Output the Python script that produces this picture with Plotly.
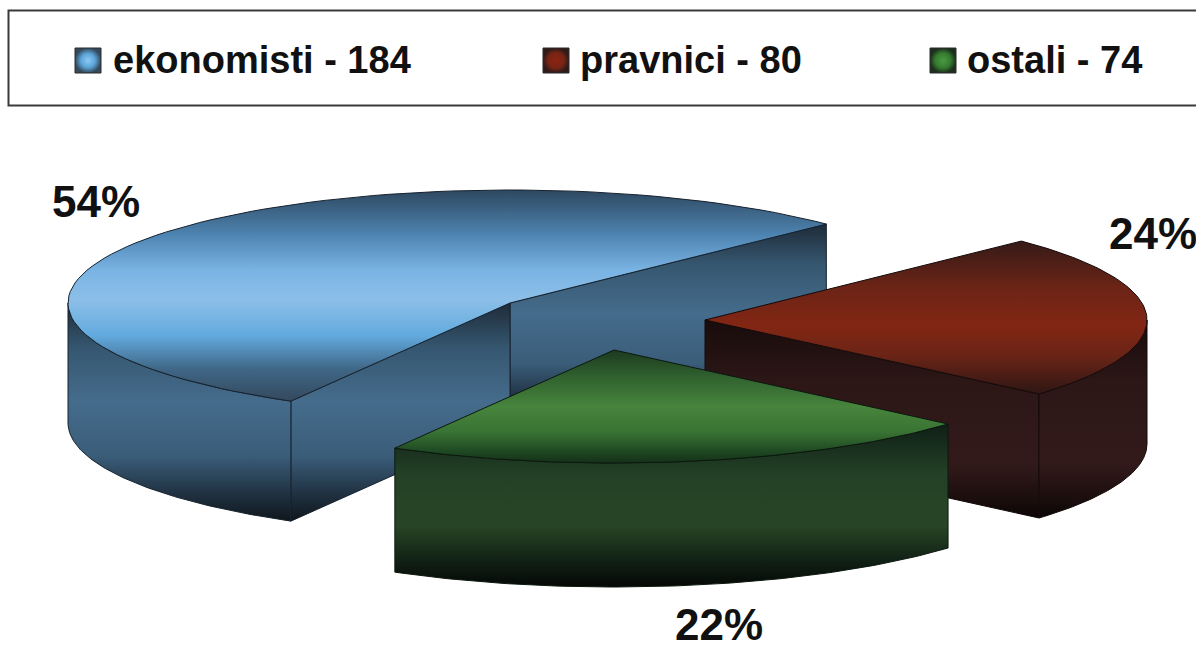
import numpy as np
import plotly.graph_objects as go

categories = ["ekonomisti", "pravnici", "ostali"]
values = [184, 80, 74]

RX, RY = 442, 113
DEPTHS = {"ekonomisti": 120, "pravnici": 124, "ostali": 124}
START_DEG = 44.3
centers = {"ekonomisti": (510, 303), "pravnici": (705, 320), "ostali": (614, 350)}
spans_order = {"ekonomisti": 0, "pravnici": 2, "ostali": 1}  # counter-clockwise order

styles = {
    "ekonomisti": dict(
        line="#16222e",
        top=[[0, "#2e4860"], [0.22, "#4f86b4"], [0.38, "#7ab4e4"], [0.52, "#8cbfe8"], [0.69, "#62aade"], [0.85, "#3f6685"], [1, "#34495e"]],
        wall=[[0, "#1e2b38"], [0.2, "#35566f"], [0.45, "#456c8c"], [0.7, "#3a5d79"], [0.88, "#1f3040"], [1, "#10161c"]],
        swatch=[[0, "#8ccaf4"], [0.55, "#5ca4d8"], [1, "#34495c"]],
    ),
    "pravnici": dict(
        line="#140a0a",
        top=[[0, "#351a18"], [0.3, "#6b2416"], [0.55, "#832614"], [0.75, "#6a2416"], [1, "#2e1614"]],
        wall=[[0, "#180c0c"], [0.3, "#2c1616"], [0.72, "#331a1a"], [0.9, "#1c0e0e"], [1, "#0c0606"]],
        swatch=[[0, "#8a2412"], [0.6, "#7a2414"], [1, "#2e1a18"]],
    ),
    "ostali": dict(
        line="#0c180e",
        top=[[0, "#1c3a20"], [0.25, "#31632f"], [0.5, "#47843c"], [0.72, "#3a7434"], [0.9, "#1e4822"], [1, "#143018"]],
        wall=[[0, "#0f1f16"], [0.3, "#234026"], [0.62, "#284626"], [0.85, "#101f14"], [1, "#050806"]],
        swatch=[[0, "#4a9a40"], [0.6, "#357a30"], [1, "#1c2e1c"]],
    ),
}

total = sum(values)
spans = {c: 360 * v / total for c, v in zip(categories, values)}

# cumulative angles, counter-clockwise from the start angle
angles = {}
cursor = START_DEG
for c in sorted(categories, key=lambda k: spans_order[k]):
    angles[c] = (cursor, cursor + spans[c])
    cursor += spans[c]

fig = go.Figure()


def poly(xs, ys, scale, line, grad_type="vertical", start=None, stop=None, width=1):
    grad = dict(type=grad_type, colorscale=scale)
    if start is not None:
        grad.update(start=start, stop=stop)
    fig.add_trace(go.Scatter(x=list(xs), y=list(ys), mode="lines", fill="toself",
                             fillgradient=grad, line=dict(color=line, width=width),
                             hoverinfo="skip", showlegend=False))


def arc(cx, cy, t0, t1, n=90):
    t = np.radians(np.linspace(t0, t1, n))
    return cx + RX * np.cos(t), cy - RY * np.sin(t)


def face(cx, cy, t, st, depth):
    ex, ey = cx + RX * np.cos(np.radians(t)), cy - RY * np.sin(np.radians(t))
    xs = [cx, ex, ex, cx, cx]
    ys = [cy, ey, ey + depth, cy + depth, cy]
    poly(xs, ys, st["wall"], st["line"], start=min(ys), stop=max(ys))


def draw(c):
    cx, cy = centers[c]
    t0, t1 = angles[c]
    st = styles[c]
    depth = DEPTHS[c]
    if np.sin(np.radians(t0 - 90)) < 0:
        face(cx, cy, t0, st, depth)
    if np.sin(np.radians(t1 + 90)) < 0:
        face(cx, cy, t1, st, depth)
    # outer rim: only the front half of the ellipse is visible
    a0, a1 = t0, t1
    if a1 > 360 and a0 < 360:
        a1 = 360
    elif a0 < 180 < a1:
        a0 = 180
    ax, ay = arc(cx, cy, a0, a1)
    xs = np.concatenate([ax, ax[::-1], ax[:1]])
    ys = np.concatenate([ay, ay[::-1] + depth, ay[:1]])
    poly(xs, ys, st["wall"], st["line"], start=ys.min(), stop=ys.max())
    # top surface
    ax, ay = arc(cx, cy, t0, t1)
    xs = np.concatenate([[cx], ax, [cx]])
    ys = np.concatenate([[cy], ay, [cy]])
    poly(xs, ys, st["top"], st["line"], start=ys.min(), stop=ys.max())


for c in categories:
    draw(c)

# legend box, swatches, legend text
fig.add_shape(type="rect", x0=8.5, x1=1210, y0=10.5, y1=105.5,
              line=dict(color="#3a3a3a", width=2), fillcolor="rgba(0,0,0,0)")
legend_swatch_x = [75, 543, 930]
legend_text_x = [111, 578, 965]
for c, v, sx, tx in zip(categories, values, legend_swatch_x, legend_text_x):
    poly([sx, sx + 26, sx + 26, sx, sx], [48, 48, 73, 73, 48], styles[c]["swatch"],
         "#2c2c2c", grad_type="radial")
    fig.add_annotation(x=tx, y=60, text=f"{c} - {v}", showarrow=False, xanchor="left", yanchor="middle",
                       font=dict(family="Liberation Sans", size=38, color="#111111", weight="bold"))

label_pos = {"ekonomisti": (96, 201), "pravnici": (1153, 233), "ostali": (719, 624)}
for c, v in zip(categories, values):
    lx, ly = label_pos[c]
    fig.add_annotation(x=lx, y=ly, text=f"{round(100 * v / total)}%", showarrow=False,
                       xanchor="center", yanchor="middle",
                       font=dict(family="Liberation Sans", size=44, color="#111111", weight="bold"))

fig.update_layout(
    width=1196, height=648, margin=dict(l=0, r=0, t=0, b=0),
    paper_bgcolor="white", plot_bgcolor="white", showlegend=False,
    xaxis=dict(range=[0, 1196], visible=False, fixedrange=True),
    yaxis=dict(range=[648, 0], visible=False, fixedrange=True),
)
fig.write_html("out.html", config={"displayModeBar": False},
               post_script="document.body.style.margin='0';document.body.style.overflow='hidden';")
